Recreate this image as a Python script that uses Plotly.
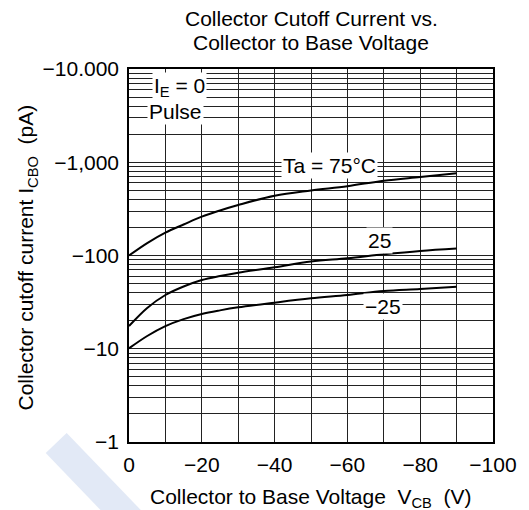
import plotly.graph_objects as go

# ---- data ----
vcb = [0, -5, -10, -15, -20, -25, -30, -40, -50, -60, -70, -80, -90]
icbo_75 = [100, 136, 176, 215, 261, 304, 348, 438, 498, 553, 634, 695, 762]
icbo_25 = [17.5, 27.4, 37.7, 46.5, 54.6, 60.3, 65.4, 74.7, 86.3, 93.3, 103, 112, 119]
icbo_m25 = [10.1, 13.7, 17.5, 20.8, 23.6, 25.8, 27.8, 31.2, 34.7, 37.7, 41.6, 43.7, 46.3]

x_tickvals = [0, -10, -20, -30, -40, -50, -60, -70, -80, -90, -100]
x_ticktext = ["0", "", "−20", "", "−40", "", "−60", "", "−80", "", "−100"]

y_decades = [1, 10, 100, 1000, 10000]
y_decade_text = ["−1", "−10", "−100", "−1,000", "−10.000"]

title_lines = ["Collector Cutoff Current vs.", "Collector to Base Voltage"]
x_title = "Collector to Base Voltage\u00a0\u00a0V<sub>CB</sub>\u00a0\u00a0(V)"
y_title = "Collector cutoff current I<sub>CBO</sub>\u00a0\u00a0(pA)"

FONT = "Liberation Sans, Arial, sans-serif"
FS = 21

y_tickvals = []
y_ticktext = []
for d, t in zip(y_decades, y_decade_text):
    y_tickvals.append(d)
    y_ticktext.append(t)
    if d < 10000:
        for m in range(2, 10):
            y_tickvals.append(d * m)
            y_ticktext.append("")

fig = go.Figure()
for ys in (icbo_75, icbo_25, icbo_m25):
    fig.add_trace(go.Scatter(x=vcb, y=ys, mode="lines",
                             line=dict(color="black", width=2, shape="spline", smoothing=1.0),
                             showlegend=False, hoverinfo="skip"))

labels = [
    dict(x=-14.0, y=3.810, text="I<sub>E</sub> = 0"),
    dict(x=-12.7, y=3.542, text="Pulse"),
    dict(x=-55.1, y=2.9705, text="Ta = 75°C"),
    dict(x=-68.9, y=2.166, text="25"),
    dict(x=-69.7, y=1.448, text="−25"),
]
for a in labels:
    fig.add_annotation(x=a["x"], y=a["y"], xref="x", yref="y", text=a["text"],
                       showarrow=False, bgcolor="white", borderpad=1,
                       font=dict(family=FONT, size=FS, color="black"))

# titles as text annotations (pixel placed)
fig.add_annotation(x=0.5, y=1, xref="paper", yref="paper", yanchor="middle",
                   yshift=69 - 18.6, text=title_lines[0], showarrow=False,
                   font=dict(family=FONT, size=FS, color="black"))
fig.add_annotation(x=0.5, y=1, xref="paper", yref="paper", yanchor="middle",
                   yshift=69 - 42.6, text=title_lines[1], showarrow=False,
                   font=dict(family=FONT, size=FS, color="black"))
fig.add_annotation(x=0.5, y=0, xref="paper", yref="paper", yanchor="middle",
                   yshift=-(497.6 - 442), text=x_title, showarrow=False,
                   font=dict(family=FONT, size=FS, color="black"))
fig.add_annotation(x=0, y=0.4946, xref="paper", yref="paper", xanchor="center",
                   yanchor="middle", xshift=-(129 - 27), textangle=-90,
                   text=y_title, showarrow=False,
                   font=dict(family=FONT, size=FS, color="black"))

# faint watermark stroke
fig.add_shape(type="line", xref="paper", yref="paper",
              x0=(54 - 129) / 375, y0=(442 - 443) / 373,
              x1=(160 - 129) / 375, y1=(442 - 550) / 373,
              line=dict(color="#e2e9f6", width=29), layer="below")

fig.update_layout(
    width=529, height=510,
    margin=dict(l=129, r=25, t=69, b=68),
    paper_bgcolor="white", plot_bgcolor="white",
    font=dict(family=FONT, size=FS, color="black"),
)
fig.update_xaxes(range=[0, -100], tickvals=x_tickvals, ticktext=x_ticktext,
                 showgrid=True, gridcolor="#222", gridwidth=1,
                 showline=True, linecolor="black", linewidth=1.5, mirror=True,
                 ticks="", zeroline=False, ticklabelstandoff=3)
fig.update_yaxes(type="log", range=[0, 4], tickvals=y_tickvals, ticktext=y_ticktext,
                 showgrid=True, gridcolor="#222", gridwidth=1,
                 showline=True, linecolor="black", linewidth=1.5, mirror=True,
                 ticks="", zeroline=False, ticklabelstandoff=4)

fig.write_html("out.html")
